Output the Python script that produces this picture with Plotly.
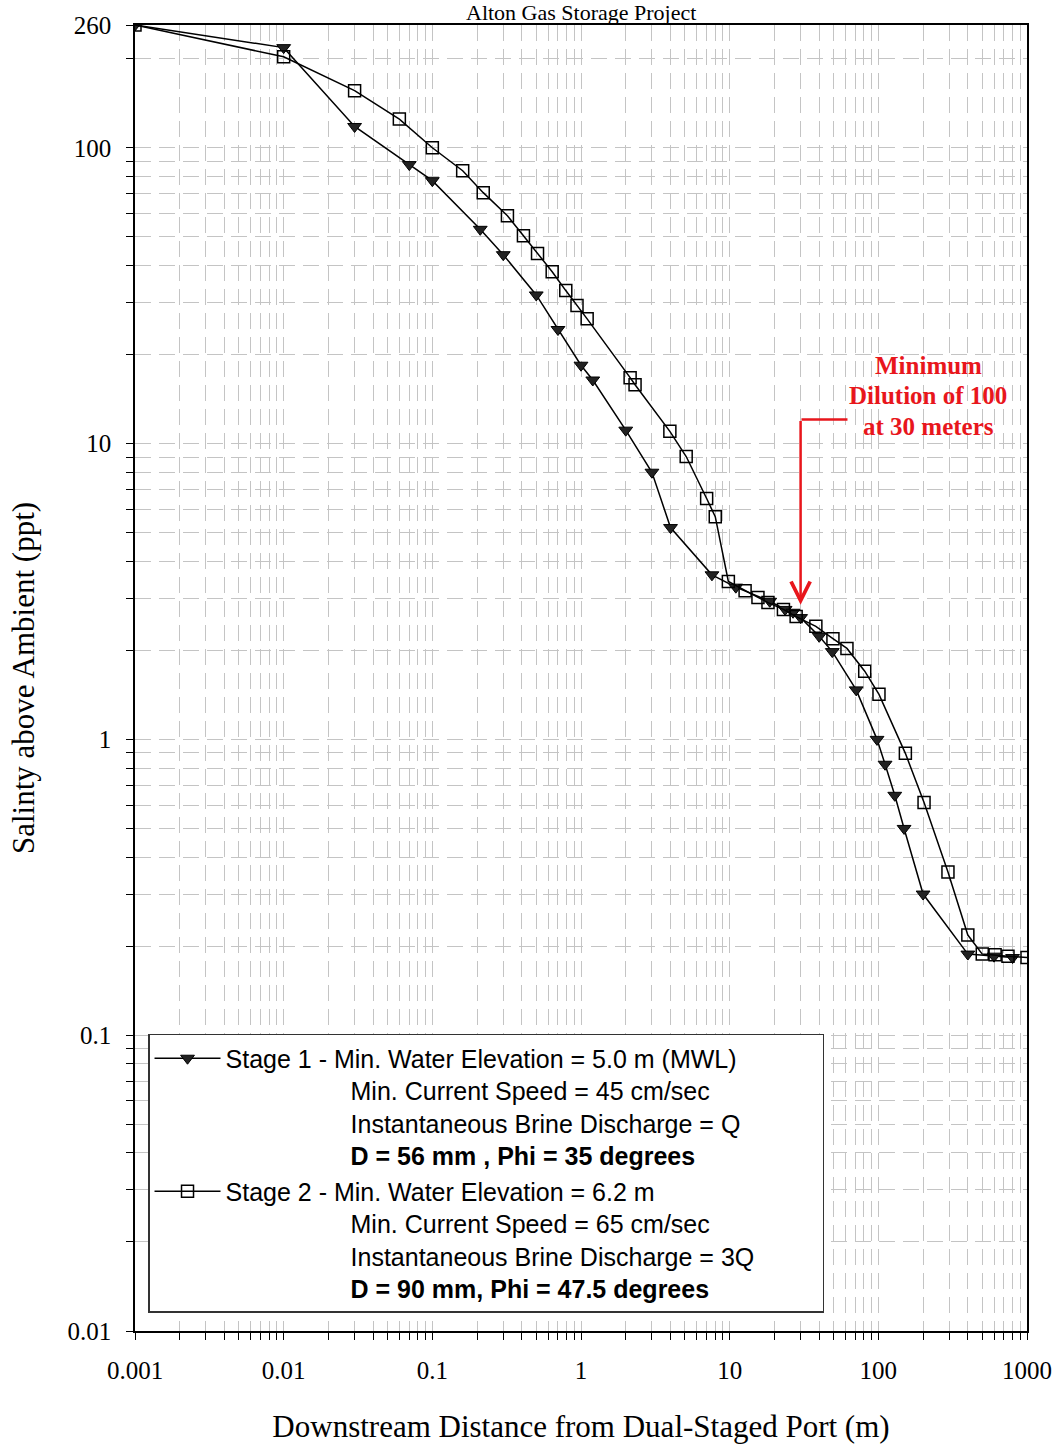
import math
import plotly.graph_objects as go

# ---------------- data ----------------
stage1_x = [0.001, 0.01, 0.03, 0.07, 0.1, 0.21, 0.3, 0.5, 0.7, 1.0, 1.2, 2.0, 3.0, 4.0, 7.6,
            11, 18.6, 23.6, 26.7, 30, 40, 49, 71, 98, 111, 129, 149, 200, 400, 600, 800]
stage1_y = [260, 218, 118, 87.7, 77.4, 53, 43.5, 31.8, 24.3, 18.4, 16.4, 11.1, 8.0, 5.2, 3.6,
            3.27, 2.93, 2.75, 2.69, 2.58, 2.23, 1.98, 1.47, 1.0, 0.824, 0.647, 0.50, 0.30, 0.188, 0.185, 0.183]

stage2_x = [0.001, 0.01, 0.03, 0.06, 0.1, 0.16, 0.22, 0.32, 0.41, 0.51, 0.64, 0.79, 0.94, 1.1,
            2.14, 2.31, 3.96, 5.1, 7.0, 8.0, 9.8, 12.7, 15.5, 18.1, 23, 28, 38, 49.5, 61.5, 81,
            101, 152, 203, 294, 400, 500, 610, 745, 1000]
stage2_y = [260, 203, 156, 125, 100, 83.6, 70.5, 58.9, 50.4, 43.9, 38.1, 32.9, 29.3, 26.4,
            16.7, 15.8, 11.0, 9.04, 6.52, 5.66, 3.42, 3.18, 3.02, 2.9, 2.75, 2.6, 2.41, 2.19, 2.03, 1.70,
            1.42, 0.897, 0.612, 0.356, 0.218, 0.188, 0.187, 0.185, 0.183]

x_tick_vals = [0.001, 0.01, 0.1, 1, 10, 100, 1000]
x_tick_text = ["0.001", "0.01", "0.1", "1", "10", "100", "1000"]
y_tick_vals = [0.01, 0.1, 1, 10, 100, 260]
y_tick_text = ["0.01", "0.1", "1", "10", "100", "260"]

title_text = "Alton Gas Storage Project"
x_title = "Downstream Distance from Dual-Staged Port (m)"
y_title = "Salinty above Ambient (ppt)"
note_lines = ["Minimum", "Dilution of 100", "at 30 meters"]
note_line_y = [18.3, 14.5, 11.4]   # salinity level of each note line centre
note_text_x = 216                  # distance of note text centre
note_target = (30, 2.85)           # arrow tip (distance, salinity)
note_start_y = 12.05               # arrow start salinity
note_bar_end_x = 62                # end of horizontal bar

NB = "&nbsp;" * 18
PAD = "&nbsp;" * 9
stage1_name = ("Stage 1 - Min. Water Elevation = 5.0 m (MWL)<br>" + NB + "Min. Current Speed = 45 cm/sec<br>"
               + NB + "Instantaneous Brine Discharge = Q<br>" + NB + "<b>D = 56 mm , Phi = 35 degrees</b>")
stage2_name = ("Stage 2 - Min. Water Elevation = 6.2 m<br>" + NB + "Min. Current Speed = 65 cm/sec<br>"
               + NB + "Instantaneous Brine Discharge = 3Q" + PAD + "<br>" + NB + "<b>D = 90 mm, Phi = 47.5 degrees</b>")

# ---------------- figure ----------------
fig = go.Figure()
fig.add_trace(go.Scatter(
    x=stage1_x, y=stage1_y, mode="lines+markers", name=stage1_name,
    line=dict(color="black", width=1.5),
    marker=dict(symbol="triangle-down", size=12, color="#222222", line=dict(color="black", width=1)),
))
fig.add_trace(go.Scatter(
    x=stage2_x, y=stage2_y, mode="lines+markers", name=stage2_name,
    line=dict(color="black", width=1.5),
    marker=dict(symbol="square-open", size=12, color="black", line=dict(color="black", width=1.5)),
))

minor_x = [m * 10 ** k for k in range(-3, 3) for m in range(2, 10)]
minor_y = [m * 10 ** k for k in range(-2, 2) for m in range(2, 10)] + [200]

grid_color = "#c4c4c4"
grid_dash = "16px,8px"
serif = "Liberation Serif, Times New Roman, serif"

fig.update_xaxes(
    type="log", range=[-3, 3], showline=True, linecolor="black", linewidth=1.5, mirror=True,
    automargin=False,
    ticks="outside", ticklen=7, tickwidth=1.2, tickcolor="black",
    tickvals=x_tick_vals, ticktext=x_tick_text, ticklabelstandoff=9,
    tickfont=dict(family=serif, size=25, color="black"),
    showgrid=True, gridcolor=grid_color, gridwidth=1, griddash=grid_dash, zeroline=False,
    minor=dict(tickvals=minor_x, ticks="outside", ticklen=7, tickcolor="black", tickwidth=1,
               showgrid=True, gridcolor=grid_color, gridwidth=1, griddash=grid_dash),
    title=dict(text=x_title, font=dict(family=serif, size=31, color="black"), standoff=33),
)
fig.update_yaxes(
    type="log", range=[-2, math.log10(260)], showline=True, linecolor="black", linewidth=1.5, mirror=True,
    automargin=False,
    ticks="outside", ticklen=7, tickwidth=1.2, tickcolor="black",
    tickvals=y_tick_vals, ticktext=y_tick_text, ticklabelstandoff=10,
    tickfont=dict(family=serif, size=25, color="black"),
    showgrid=True, gridcolor=grid_color, gridwidth=1, griddash=grid_dash, zeroline=False,
    minor=dict(tickvals=minor_y, ticks="outside", ticklen=7, tickcolor="black", tickwidth=1,
               showgrid=True, gridcolor=grid_color, gridwidth=1, griddash=grid_dash),
    title=dict(text=y_title, font=dict(family=serif, size=31, color="black"), standoff=24),
)

red = "#e8161c"
# vertical arrow
fig.add_annotation(
    x=math.log10(note_target[0]), y=math.log10(note_target[1]), xref="x", yref="y",
    ax=math.log10(note_target[0]), ay=math.log10(note_start_y), axref="x", ayref="y",
    text="", showarrow=True, arrowhead=5, arrowsize=1.5, arrowwidth=2.5, arrowcolor=red,
)
# horizontal bar
fig.add_annotation(
    x=math.log10(note_bar_end_x), y=math.log10(note_start_y), xref="x", yref="y",
    ax=math.log10(note_target[0]) - 0.004, ay=math.log10(note_start_y), axref="x", ayref="y",
    text="", showarrow=True, arrowhead=0, arrowwidth=2.5, arrowcolor=red,
)
for line, ly in zip(note_lines, note_line_y):
    fig.add_annotation(
        x=math.log10(note_text_x), y=math.log10(ly), xref="x", yref="y",
        text="<b>" + line + "</b>", showarrow=False, align="center",
        font=dict(family=serif, size=25, color=red),
    )
# title (at the very top, as in the source)
fig.add_annotation(
    x=0.5, y=1, xref="paper", yref="paper", yanchor="middle", yshift=13,
    text=title_text, showarrow=False, font=dict(family=serif, size=22, color="black"),
)

fig.update_layout(
    width=1060, height=1447,
    margin=dict(l=135, r=33, t=25, b=116),
    paper_bgcolor="white", plot_bgcolor="white",
    showlegend=True,
    legend=dict(
        x=0.0146, y=0.0138, xanchor="left", yanchor="bottom",
        bgcolor="white", bordercolor="#333333", borderwidth=1.5,
        font=dict(family="Liberation Sans, Arial, sans-serif", size=25, color="black"),
        valign="top", itemwidth=66, tracegroupgap=4,
    ),
)

fig.write_html("out.html")
